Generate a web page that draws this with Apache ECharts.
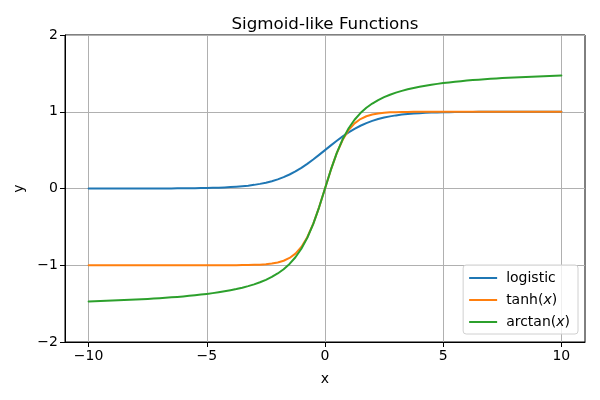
<!DOCTYPE html>
<html>
<head>
<meta charset="utf-8">
<script src="https://cdn.jsdelivr.net/npm/echarts@6/dist/echarts.min.js"></script>
<style>html,body{margin:0;padding:0;background:#fff}#c{width:600px;height:400px}</style>
</head>
<body>
<div id="c"></div>
<script>
var xs = [-10,-9.75,-9.5,-9.25,-9,-8.75,-8.5,-8.25,-8,-7.75,-7.5,-7.25,-7,-6.75,-6.5,-6.25,-6,-5.75,-5.5,-5.25,
  -5,-4.75,-4.5,-4.25,-4,-3.75,-3.5,-3.25,-3,-2.75,-2.5,-2.25,-2,-1.75,-1.5,-1.25,-1,-0.75,-0.5,-0.25,
  0,
  0.25,0.5,0.75,1,1.25,1.5,1.75,2,2.25,2.5,2.75,3,3.25,3.5,3.75,4,4.25,4.5,4.75,5,
  5.25,5.5,5.75,6,6.25,6.5,6.75,7,7.25,7.5,7.75,8,8.25,8.5,8.75,9,9.25,9.5,9.75,10];
var logistic = [0.0,0.0001,0.0001,0.0001,0.0001,0.0002,0.0002,0.0003,0.0003,0.0004,0.0006,0.0007,0.0009,0.0012,0.0015,0.0019,0.0025,0.0032,0.0041,0.0052,
  0.0067,0.0086,0.011,0.0141,0.018,0.023,0.0293,0.0373,0.0474,0.0601,0.0759,0.0953,0.1192,0.148,0.1824,0.2227,0.2689,0.3208,0.3775,0.4378,
  0.5,
  0.5622,0.6225,0.6792,0.7311,0.7773,0.8176,0.852,0.8808,0.9047,0.9241,0.9399,0.9526,0.9627,0.9707,0.977,0.982,0.9859,0.989,0.9914,0.9933,
  0.9948,0.9959,0.9968,0.9975,0.9981,0.9985,0.9988,0.9991,0.9993,0.9994,0.9996,0.9997,0.9997,0.9998,0.9998,0.9999,0.9999,0.9999,0.9999,1.0];
var tanhVals = [-1,-1,-1,-1,-1,-1,-1,-1,-1,-1,-1,-1,-1,-1,-1,-1,-1,-1,-1,-1,
  -0.9999,-0.9999,-0.9998,-0.9996,-0.9993,-0.9989,-0.9982,-0.997,-0.9951,-0.9919,-0.9866,-0.978,-0.964,-0.9414,-0.9051,-0.8483,-0.7616,-0.6351,-0.4621,-0.2449,
  0,
  0.2449,0.4621,0.6351,0.7616,0.8483,0.9051,0.9414,0.964,0.978,0.9866,0.9919,0.9951,0.997,0.9982,0.9989,0.9993,0.9996,0.9998,0.9999,0.9999,
  1,1,1,1,1,1,1,1,1,1,1,1,1,1,1,1,1,1,1,1];
var arctanVals = [-1.4711,-1.4686,-1.4659,-1.4631,-1.4601,-1.457,-1.4537,-1.4502,-1.4464,-1.4425,-1.4382,-1.4337,-1.4289,-1.4237,-1.4181,-1.4121,-1.4056,-1.3986,-1.3909,-1.3826,
  -1.3734,-1.3633,-1.3521,-1.3397,-1.3258,-1.3102,-1.2925,-1.2723,-1.249,-1.222,-1.1903,-1.1526,-1.1071,-1.0517,-0.9828,-0.8961,-0.7854,-0.6435,-0.4636,-0.245,
  0,
  0.245,0.4636,0.6435,0.7854,0.8961,0.9828,1.0517,1.1071,1.1526,1.1903,1.222,1.249,1.2723,1.2925,1.3102,1.3258,1.3397,1.3521,1.3633,1.3734,
  1.3826,1.3909,1.3986,1.4056,1.4121,1.4181,1.4237,1.4289,1.4337,1.4382,1.4425,1.4464,1.4502,1.4537,1.457,1.4601,1.4631,1.4659,1.4686,1.4711];
var seriesNames = ['logistic','tanh(x)','arctan(x)'];
var xTicks = [-10,-5,0,5,10];
var yTicks = [-2,-1,0,1,2];

function pairs(ys){ return xs.map(function(x,i){ return [x, ys[i]]; }); }

var font = 'DejaVu Sans';
var chart = echarts.init(document.getElementById('c'), null, {renderer:'canvas'});
var lineSeries = function(name, ys, color){
  return {name:name, type:'line', data:pairs(ys), smooth:false, showSymbol:false, symbol:'none',
    lineStyle:{color:color, width:2, join:'round', cap:'round'}, itemStyle:{color:color}, animation:false};
};
function fmt(v){ return v<0 ? '\u2212'+Math.abs(v) : String(v); }
chart.setOption({
  animation:false,
  title:{text:'Sigmoid-like Functions', left:320, top:11, textAlign:'center',
    textStyle:{fontFamily:font, fontSize:16.7, fontWeight:'normal', color:'#000'}},
  grid:{left:65, right:15, top:35, bottom:58, show:true, borderColor:'#000', borderWidth:1, backgroundColor:'transparent'},
  legend:{orient:'vertical', right:22, bottom:66, padding:[6,8,5,6], itemGap:8,
    borderColor:'#d0d0d0', borderWidth:1, borderRadius:3, backgroundColor:'rgba(255,255,255,0.8)',
    icon:'rect', itemWidth:28, itemHeight:2,
    data:seriesNames,
    formatter:function(n){
      if(n==='tanh(x)') return 'tanh({i|x})';
      if(n==='arctan(x)') return 'arctan({i|x})';
      return n;
    },
    textStyle:{fontFamily:font, fontSize:14, color:'#000', padding:[0,0,0,4],
      rich:{i:{fontFamily:font, fontSize:14, fontStyle:'italic', color:'#000'}}}},
  xAxis:{type:'value', min:-11, max:11,
    name:'x', nameLocation:'middle', nameGap:30, nameTextStyle:{fontFamily:font, fontSize:14, color:'#000'},
    axisLine:{show:true, onZero:false, lineStyle:{color:'#000', width:1}},
    axisTick:{show:true, length:5, lineStyle:{color:'#000'}, customValues:xTicks},
    axisLabel:{fontFamily:font, fontSize:14, color:'#000', margin:7, customValues:xTicks, formatter:fmt},
    splitLine:{show:true, lineStyle:{color:'#b0b0b0', width:1}, customValues:xTicks}},
  yAxis:{type:'value', min:-2, max:2, interval:1,
    name:'y', nameLocation:'middle', nameGap:38, nameTextStyle:{fontFamily:font, fontSize:14, color:'#000'},
    axisLine:{show:true, onZero:false, lineStyle:{color:'#000', width:1}},
    axisTick:{show:true, length:5, lineStyle:{color:'#000'}},
    axisLabel:{fontFamily:font, fontSize:14, color:'#000', margin:7, formatter:fmt},
    splitLine:{show:true, lineStyle:{color:'#b0b0b0', width:1}}},
  series:[
    lineSeries(seriesNames[0], logistic, '#1f77b4'),
    lineSeries(seriesNames[1], tanhVals, '#ff7f0e'),
    lineSeries(seriesNames[2], arctanVals, '#2ca02c')
  ]
});
</script>
</body>
</html>
